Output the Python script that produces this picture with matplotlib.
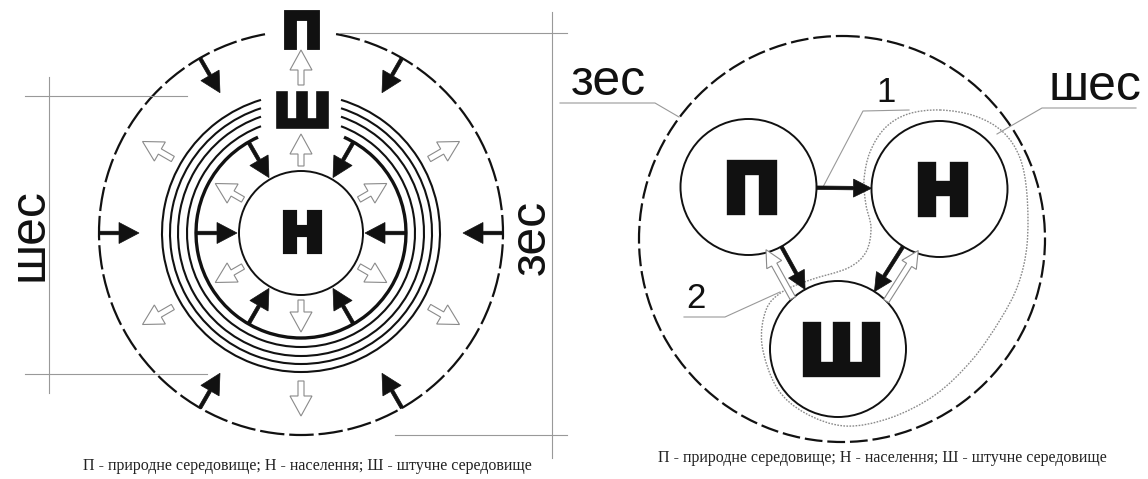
import numpy as np
import matplotlib.pyplot as plt
import matplotlib.patheffects as pe
from matplotlib.patches import Circle, Arc, FancyArrow, PathPatch
from matplotlib.path import Path

# ---- left scheme: concentric model (pixel coordinates, y down) ----
left_c = (301, 233)
left_outer_r = 202
left_outer_gap = 10                     # deg either side of the top
left_n_r = 62
ring_r = [105, 114, 123, 131, 139]
ring_lw = [2.4, 1.5, 1.5, 1.5, 1.5]
ring_gap_x = [43, 40, 40, 40, 40]
black_angles = [0, 60, 120, 180, 240, 300]
white_angles = [30, 90, 150, 210, 270, 330]
outer_black_r = (202, 162)
inner_black_r = (104, 64)
outer_white_r = (148, 183)
inner_white_r = (67, 99)
left_letters = ['П', 'Ш', 'Н']
left_letter_y = [30, 110, 232]
left_letter_cap = [36, 34, 39]
dim_lines = [
    [(49, 77), (49, 393)],
    [(25, 96), (187, 96)],
    [(25, 374), (207, 374)],
    [(552, 12), (552, 458)],
    [(340, 33), (567, 33)],
    [(395, 435), (567, 435)],
]

# ---- right scheme: three nodes ----
right_c = (842, 239)
right_outer_r = 203
node_names = ['П', 'Н', 'Ш']
node_x = [748.5, 939.5, 838]
node_y = [187, 189, 349]
node_r = 68
black_links = [(0, 1), (0, 2), (1, 2)]
white_links = [(2, 0, 15), (2, 1, -15)]
outline_x = [940, 975, 1003, 1020, 1027, 1027, 1018, 1000, 972, 935, 890, 845,
             805, 777, 762, 766, 782, 810, 848, 866, 871, 866, 864, 870, 885, 908]
outline_y = [110, 116, 132, 158, 195, 245, 285, 320, 360, 395, 418, 426,
             413, 388, 345, 310, 292, 280, 268, 252, 228, 205, 180, 152, 128, 114]
leaders = [
    [(560, 103), (655, 103), (679, 117)],
    [(1136, 108), (1042, 108), (997, 134)],
    [(909, 110), (863, 111), (823, 187)],
    [(684, 317), (725, 317), (780, 292)],
]
right_labels = ['зес', 'шес', '1', '2']
right_label_xy = [(608, 95), (1095, 100), (886, 102), (696, 308)]
right_label_size = [36, 36, 25, 25]

caption = 'П - природне середовище; Н - населення; Ш - штучне середовище'

BLACK = '#111111'
GREY = '#999999'

fig = plt.figure(figsize=(11.48, 4.79), dpi=100)
ax = fig.add_axes([0, 0, 1, 1])
ax.set_xlim(0, 1148)
ax.set_ylim(479, 0)
ax.axis('off')


def pt(c, r, a):
    t = np.deg2rad(a)
    return c[0] + r * np.cos(t), c[1] - r * np.sin(t)


def arrow(p0, p1, white=False, big=True):
    dx, dy = p1[0] - p0[0], p1[1] - p0[1]
    if white:
        hw, hl, w = (22, 20, 6) if big else (17, 17, 6)
        ax.add_patch(FancyArrow(p0[0], p0[1], dx, dy, width=w, head_width=hw,
                                head_length=hl, length_includes_head=True,
                                fc='white', ec='#8a8a8a', lw=0.8, zorder=4))
    else:
        hw, hl, w = (21, 20, 3.5) if big else (18, 18, 3.5)
        ax.add_patch(FancyArrow(p0[0], p0[1], dx, dy, width=w, head_width=hw,
                                head_length=hl, length_includes_head=True,
                                fc=BLACK, ec=BLACK, lw=0.5, zorder=4))


def letter(x, y, s, cap):
    size = cap / 0.729 * 0.72
    ax.text(x, y + cap / 2, s, fontsize=size, fontweight='bold',
            family='DejaVu Sans', ha='center', va='baseline', color=BLACK, zorder=5,
            path_effects=[pe.withStroke(linewidth=cap / 13, foreground=BLACK,
                                        joinstyle='miter')])


# left scheme
ax.add_patch(Arc(left_c, 2 * left_outer_r, 2 * left_outer_r,
                 theta1=270 + left_outer_gap, theta2=270 - left_outer_gap,
                 lw=1.6, color=BLACK, linestyle=(0, (11, 2.2))))
for r, lw, gx in zip(ring_r, ring_lw, ring_gap_x):
    g = np.rad2deg(np.arcsin(gx / r))
    ax.add_patch(Arc(left_c, 2 * r, 2 * r, theta1=270 + g, theta2=270 - g,
                     lw=lw, color=BLACK))
ax.add_patch(Circle(left_c, left_n_r, fc='white', ec=BLACK, lw=1.4, zorder=3))

for a in black_angles:
    arrow(pt(left_c, outer_black_r[0], a), pt(left_c, outer_black_r[1], a))
    arrow(pt(left_c, inner_black_r[0], a), pt(left_c, inner_black_r[1], a))
for a in white_angles:
    arrow(pt(left_c, outer_white_r[0], a), pt(left_c, outer_white_r[1], a), white=True)
    arrow(pt(left_c, inner_white_r[0], a), pt(left_c, inner_white_r[1], a), white=True)

for s, y, cap in zip(left_letters, left_letter_y, left_letter_cap):
    letter(left_c[0] + 1, y, s, cap)

for seg in dim_lines:
    xs, ys = zip(*seg)
    ax.plot(xs, ys, color=GREY, lw=0.8)

ax.text(42, 235, 'шес', rotation=90, rotation_mode='anchor', ha='center',
        va='baseline', fontsize=36, family='Liberation Sans', color=BLACK)
ax.text(545, 237, 'зес', rotation=90, rotation_mode='anchor', ha='center',
        va='baseline', fontsize=36, family='Liberation Sans', color=BLACK)
ax.text(307, 470, caption, fontsize=11.5, family='Liberation Serif',
        ha='center', va='baseline', color='#222222')

# right scheme
ax.add_patch(Circle(right_c, right_outer_r, fill=False, ec=BLACK, lw=1.6,
                    linestyle=(0, (8, 2.2))))

# closed smooth outline of the "шес" region (Catmull-Rom -> cubic Bezier)
P = np.column_stack([outline_x, outline_y]).astype(float)
n = len(P)
verts = [P[0]]
codes = [Path.MOVETO]
for i in range(n):
    p0, p1, p2, p3 = P[i - 1], P[i], P[(i + 1) % n], P[(i + 2) % n]
    verts += [p1 + (p2 - p0) / 6, p2 - (p3 - p1) / 6, p2]
    codes += [Path.CURVE4] * 3
ax.add_patch(PathPatch(Path(verts, codes), fill=False, ec='#8a8a8a', lw=1.0,
                       linestyle=(0, (1.2, 1.0))))

for i in range(3):
    ax.add_patch(Circle((node_x[i], node_y[i]), node_r, fc='white', ec=BLACK,
                        lw=1.4, zorder=3))
    letter(node_x[i] + 3, node_y[i], node_names[i], 50)

for a, b in black_links:
    ca = np.array([node_x[a], node_y[a]])
    cb = np.array([node_x[b], node_y[b]])
    u = (cb - ca) / np.linalg.norm(cb - ca)
    arrow(ca + u * node_r, cb - u * node_r, big=False)

for a, b, off in white_links:
    ca = np.array([node_x[a], node_y[a]])
    cb = np.array([node_x[b], node_y[b]])
    u = (cb - ca) / np.linalg.norm(cb - ca)
    nv = np.array([u[1], -u[0]]) * off
    d = np.sqrt(node_r ** 2 - off ** 2)
    arrow(ca + u * d + nv, cb - u * (d - 3) + nv, white=True, big=False)

for seg in leaders:
    xs, ys = zip(*seg)
    ax.plot(xs, ys, color=GREY, lw=0.8)

for s, (x, y), fs in zip(right_labels, right_label_xy, right_label_size):
    ax.text(x, y, s, fontsize=fs, family='Liberation Sans', ha='center',
            va='baseline', color=BLACK)

ax.text(882, 462, caption, fontsize=11.5, family='Liberation Serif',
        ha='center', va='baseline', color='#222222')

fig.savefig('out.png', dpi=100, facecolor='white')
